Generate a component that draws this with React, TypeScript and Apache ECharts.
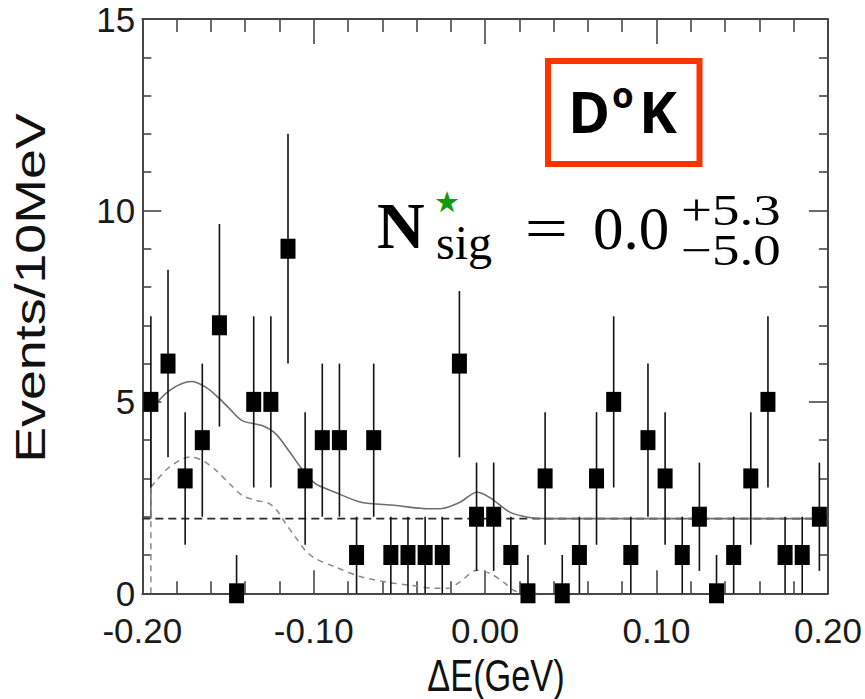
import React, { useEffect, useRef } from "react";
import * as echarts from "echarts";

// ΔE bin centres (10 MeV bins) and event counts per bin
const binCenters = [
  -0.195, -0.185, -0.175, -0.165, -0.155, -0.145, -0.135, -0.125, -0.115, -0.105,
  -0.095, -0.085, -0.075, -0.065, -0.055, -0.045, -0.035, -0.025, -0.015, -0.005,
  0.005, 0.015, 0.025, 0.035, 0.045, 0.055, 0.065, 0.075, 0.085, 0.095,
  0.105, 0.115, 0.125, 0.135, 0.145, 0.155, 0.165, 0.175, 0.185, 0.195,
];
const counts = [
  5, 6, 3, 4, 7, 0, 5, 5, 9, 3,
  4, 4, 1, 4, 1, 1, 1, 1, 6, 2,
  2, 1, 0, 3, 0, 1, 3, 5, 1, 4,
  3, 1, 2, 0, 1, 3, 5, 1, 1, 2,
];

// Total fit (solid)
const totalFitX = [
  -0.195, -0.184, -0.1714, -0.1628, -0.1551, -0.1493, -0.1418, -0.1302, -0.1223,
  -0.1146, -0.1071, -0.0992, -0.0876, -0.0724, -0.0529, -0.0336, -0.0261, -0.0146,
  -0.0048, 0.0028, 0.0144, 0.0259, 0.0357, 0.2,
];
const totalFitY = [
  4.8, 5.3, 5.53, 5.38, 5.09, 4.83, 4.51, 4.38, 4.17,
  3.73, 3.26, 2.87, 2.64, 2.38, 2.3, 2.21, 2.21, 2.38,
  2.64, 2.5, 2.12, 1.98, 1.95, 1.95,
];

// Peaking component (dashed)
const peakingX = [
  -0.195, -0.1917, -0.184, -0.1724, -0.1649, -0.157, -0.1493, -0.1418, -0.1338,
  -0.1262, -0.1215, -0.1165, -0.1107, -0.1049, -0.0992, -0.0876, -0.0724, -0.0568,
  -0.0434, -0.0298, -0.022, -0.0146, -0.0048, 0.0028, 0.0107, 0.0165, 0.0213, 0.03,
];
const peakingY = [
  2.77, 2.95, 3.3, 3.56, 3.47, 3.21, 2.87, 2.56, 2.43,
  2.35, 2.17, 1.83, 1.47, 1.12, 0.91, 0.69, 0.43, 0.29,
  0.21, 0.13, 0.13, 0.3, 0.6, 0.52, 0.29, 0.08, 0.02, 0.0,
];

// Flat combinatorial background level
const backgroundLevel = 1.95;

const xTickLabels = ["-0.20", "-0.10", "0.00", "0.10", "0.20"];
const yTickLabels = ["0", "5", "10", "15"];

const AXIS_COLOR = "#474747";

export default function App() {
  const ref = useRef<HTMLDivElement | null>(null);

  useEffect(() => {
    if (!ref.current) return;
    const chart = echarts.init(ref.current, undefined, { renderer: "svg" });

    const points = binCenters.map((x, i) => [x, counts[i]]);
    // Poisson error bars, with a one-event upper bar on empty bins
    const errBars = binCenters.map((x, i) => {
      const n = counts[i];
      const s = Math.sqrt(n);
      return [x, Math.max(0, n - s), n > 0 ? n + s : 1];
    });
    const totalFit = totalFitX.map((x, i) => [x, totalFitY[i]]);
    const peaking = peakingX.map((x, i) => [x, peakingY[i]]);

    const tickFont = {
      fontFamily: "'Liberation Sans Narrow', 'Liberation Sans', Arial, sans-serif",
      fontSize: 35,
      color: "#1a1a1a",
    };

    const xCommon = {
      type: "value" as const,
      min: -0.2,
      max: 0.2,
      interval: 0.1,
      splitLine: { show: false },
      axisLine: { show: true, onZero: false, lineStyle: { color: AXIS_COLOR, width: 2 } },
    };
    const yCommon = {
      type: "value" as const,
      min: 0,
      max: 15,
      interval: 5,
      splitLine: { show: false },
      axisLine: { show: true, onZero: false, lineStyle: { color: AXIS_COLOR, width: 2 } },
      axisTick: { show: true, inside: true, length: 19, lineStyle: { color: AXIS_COLOR, width: 1.6 } },
      minorTick: { show: true, splitNumber: 5, length: 9, lineStyle: { color: AXIS_COLOR, width: 1.6 } },
    };

    chart.setOption({
      animation: false,
      backgroundColor: "#ffffff",
      grid: { left: 142.3, right: 31, top: 19, bottom: 105.7 },
      xAxis: [
        {
          ...xCommon,
          position: "bottom",
          axisTick: { show: true, inside: true, length: 23, lineStyle: { color: AXIS_COLOR, width: 1.6 } },
          minorTick: { show: true, splitNumber: 5, length: 12, lineStyle: { color: AXIS_COLOR, width: 1.6 } },
          axisLabel: {
            ...tickFont,
            margin: 20,
            formatter: (v: number) => xTickLabels[Math.round((v + 0.2) / 0.1)],
          },
        },
        {
          ...xCommon,
          position: "top",
          axisTick: { show: true, inside: true, length: 25, lineStyle: { color: AXIS_COLOR, width: 1.6 } },
          minorTick: { show: true, splitNumber: 5, length: 13, lineStyle: { color: AXIS_COLOR, width: 1.6 } },
          axisLabel: { show: false },
        },
      ],
      yAxis: [
        {
          ...yCommon,
          position: "left",
          axisLabel: {
            ...tickFont,
            margin: 7,
            formatter: (v: number) => yTickLabels[Math.round(v / 5)],
          },
        },
        { ...yCommon, position: "right", axisLabel: { show: false } },
      ],
      series: [
        {
          name: "background",
          type: "line",
          data: [[-0.2, backgroundLevel], [0.2, backgroundLevel]],
          showSymbol: false,
          lineStyle: { color: "#2a2a2a", width: 1.7, type: [8, 5] },
          z: 3,
        },
        {
          name: "peaking edge",
          type: "line",
          data: [[-0.195, 0], [-0.195, peakingY[0]]],
          showSymbol: false,
          lineStyle: { color: "#8a8a8a", width: 1.5, type: [6, 5] },
          z: 3,
        },
        {
          name: "peaking",
          type: "line",
          data: peaking,
          smooth: 0.3,
          showSymbol: false,
          lineStyle: { color: "#8a8a8a", width: 1.5, type: [6, 5] },
          z: 3,
        },
        {
          name: "fit edge",
          type: "line",
          data: [[-0.195, backgroundLevel], [-0.195, totalFitY[0]]],
          showSymbol: false,
          lineStyle: { color: "#6e6e6e", width: 1.6 },
          z: 3,
        },
        {
          name: "fit",
          type: "line",
          data: totalFit,
          smooth: 0.3,
          showSymbol: false,
          lineStyle: { color: "#6e6e6e", width: 1.6 },
          z: 3,
        },
        {
          name: "errors",
          type: "custom",
          data: errBars,
          z: 4,
          renderItem: (_params: any, api: any) => {
            const p1 = api.coord([api.value(0), api.value(1)]);
            const p2 = api.coord([api.value(0), api.value(2)]);
            return {
              type: "line",
              shape: { x1: p1[0], y1: p1[1], x2: p2[0], y2: p2[1] },
              style: { stroke: "#111", lineWidth: 1.6 },
            };
          },
        },
        {
          name: "data",
          type: "scatter",
          data: points,
          symbol: "rect",
          symbolSize: [15, 20],
          itemStyle: { color: "#000", opacity: 1 },
          z: 5,
        },
      ],
      graphic: [
        {
          type: "text",
          x: 30,
          y: 288,
          rotation: Math.PI / 2,
          scaleX: 1.28,
          z: 100,
          style: {
            text: "Events/10MeV",
            fontFamily: "'Liberation Sans', Arial, sans-serif",
            fontSize: 42,
            fill: "#111",
            align: "center",
            verticalAlign: "middle",
          },
        },
        {
          type: "text",
          x: 496,
          y: 675,
          scaleX: 0.78,
          z: 100,
          style: {
            text: "ΔE(GeV)",
            fontFamily: "'Liberation Sans', Arial, sans-serif",
            fontSize: 44,
            fill: "#111",
            align: "center",
            verticalAlign: "middle",
          },
        },
        // D0K label box
        {
          type: "rect",
          z: 100,
          shape: { x: 548, y: 61, width: 151.5, height: 103 },
          style: { fill: "#ffffff", stroke: "#ff3300", lineWidth: 6 },
        },
        {
          type: "text",
          x: 568,
          y: 111,
          z: 101,
          style: {
            text: "D",
            fontFamily: "'Open Sans', 'Noto Sans', sans-serif",
            fontWeight: 700,
            fontSize: 57,
            fill: "#000",
            align: "left",
            verticalAlign: "middle",
          },
        },
        {
          type: "text",
          x: 612,
          y: 94.5,
          z: 101,
          style: {
            text: "o",
            fontFamily: "'Open Sans', 'Noto Sans', sans-serif",
            fontWeight: 700,
            fontSize: 35,
            fill: "#000",
            align: "left",
            verticalAlign: "middle",
          },
        },
        {
          type: "text",
          x: 639,
          y: 111,
          z: 101,
          style: {
            text: "K",
            fontFamily: "'Open Sans', 'Noto Sans', sans-serif",
            fontWeight: 700,
            fontSize: 57,
            fill: "#000",
            align: "left",
            verticalAlign: "middle",
          },
        },
        // Signal yield formula
        {
          type: "rect",
          z: 100,
          shape: { x: 370, y: 172, width: 423, height: 119 },
          style: { fill: "#ffffff" },
        },
        {
          type: "text",
          x: 377,
          y: 225,
          z: 101,
          style: {
            text: "N",
            fontFamily: "'Liberation Serif', 'DejaVu Serif', serif",
            fontWeight: "bold",
            fontSize: 66,
            fill: "#000",
            align: "left",
            verticalAlign: "middle",
          },
        },
        {
          type: "text",
          x: 447,
          y: 202,
          z: 101,
          style: {
            text: "★",
            fontFamily: "'DejaVu Sans', sans-serif",
            fontSize: 29,
            fill: "#109a10",
            align: "center",
            verticalAlign: "middle",
          },
        },
        {
          type: "text",
          x: 436,
          y: 242,
          z: 101,
          style: {
            text: "sig",
            fontFamily: "'Liberation Serif', 'DejaVu Serif', serif",
            fontSize: 48,
            fill: "#000",
            align: "left",
            verticalAlign: "middle",
          },
        },
        {
          type: "text",
          x: 546.5,
          y: 228,
          scaleX: 1.3,
          z: 101,
          style: {
            text: "=",
            fontFamily: "'Liberation Serif', 'DejaVu Serif', serif",
            fontSize: 59,
            fill: "#000",
            align: "center",
            verticalAlign: "middle",
          },
        },
        {
          type: "text",
          x: 593,
          y: 228,
          z: 101,
          style: {
            text: "0.0",
            fontFamily: "'Liberation Serif', 'DejaVu Serif', serif",
            fontSize: 61,
            fill: "#000",
            align: "left",
            verticalAlign: "middle",
          },
        },
        {
          type: "text",
          x: 681,
          y: 210.5,
          scaleX: 1.25,
          z: 101,
          style: {
            text: "+5.3",
            fontFamily: "'Liberation Serif', 'DejaVu Serif', serif",
            fontSize: 44,
            fill: "#000",
            align: "left",
            verticalAlign: "middle",
          },
        },
        {
          type: "text",
          x: 681,
          y: 250.5,
          scaleX: 1.25,
          z: 101,
          style: {
            text: "−5.0",
            fontFamily: "'Liberation Serif', 'DejaVu Serif', serif",
            fontSize: 44,
            fill: "#000",
            align: "left",
            verticalAlign: "middle",
          },
        },
      ],
    });

    return () => chart.dispose();
  }, []);

  return (
    <div
      ref={ref}
      style={{ position: "fixed", left: 0, top: 0, width: 865, height: 699, background: "#fff" }}
    />
  );
}
